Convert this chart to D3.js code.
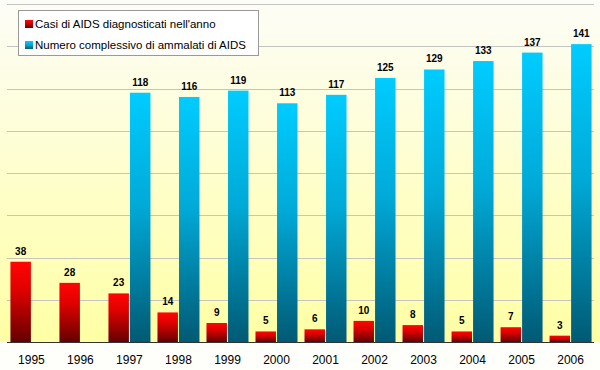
<!DOCTYPE html>
<html>
<head>
<meta charset="utf-8">
<script src="https://cdn.jsdelivr.net/npm/d3@7"></script>
<style>
  body { margin: 0; background: #fefefa; }
  svg { display: block; font-family: "Liberation Sans", Arial, sans-serif; }
</style>
</head>
<body>
<div id="chart"></div>
<script>
const years = ["1995","1996","1997","1998","1999","2000","2001","2002","2003","2004","2005","2006"];
const casiAnno = [38, 28, 23, 14, 9, 5, 6, 10, 8, 5, 7, 3];
const ammalatiTotale = [null, null, 118, 116, 119, 113, 117, 125, 129, 133, 137, 141];
const seriesNames = ["Casi di AIDS diagnosticati nell'anno", "Numero complessivo di ammalati di AIDS"];
const yTicks = [20, 40, 60, 80, 100, 120, 140, 160];

const width = 600;
const height = 370;

const plotLeft = 7, plotRight = 595, plotTop = 4, plotBottom = 342;

let svg = d3.select("#chart")
    .append("svg")
    .attr("width", width)
    .attr("height", height);

let defs = svg.append("defs");

let bgGrad = defs.append("linearGradient")
    .attr("id", "bg-grad")
    .attr("x1", 0).attr("y1", 0).attr("x2", 0).attr("y2", 1);
bgGrad.append("stop").attr("offset", "0%").attr("stop-color", "#fdfdf8");
bgGrad.append("stop").attr("offset", "100%").attr("stop-color", "#ffffa4");

let redGrad = defs.append("linearGradient")
    .attr("id", "red-grad")
    .attr("x1", 0).attr("y1", 0).attr("x2", 0).attr("y2", 1);
redGrad.append("stop").attr("offset", "0%").attr("stop-color", "#ff0505");
redGrad.append("stop").attr("offset", "35%").attr("stop-color", "#e00000");
redGrad.append("stop").attr("offset", "100%").attr("stop-color", "#640000");

let blueGrad = defs.append("linearGradient")
    .attr("id", "blue-grad")
    .attr("x1", 0).attr("y1", 0).attr("x2", 0).attr("y2", 1);
blueGrad.append("stop").attr("offset", "0%").attr("stop-color", "#00ccff");
blueGrad.append("stop").attr("offset", "45%").attr("stop-color", "#00aad8");
blueGrad.append("stop").attr("offset", "100%").attr("stop-color", "#005a74");

// background
svg.append("rect")
    .attr("x", 0)
    .attr("y", 0)
    .attr("width", width)
    .attr("height", plotBottom)
    .attr("fill", "url(#bg-grad)");

let xScale = d3.scaleBand()
    .domain(years)
    .range([plotLeft, plotRight])
    .paddingInner(0.143)
    .paddingOuter(0.07);

let xSub = d3.scaleBand()
    .domain([0, 1])
    .range([0, xScale.bandwidth()])
    .paddingInner(0.05);

let yScale = d3.scaleLinear()
    .domain([0, 160])
    .range([plotBottom, plotTop]);

// gridlines
svg.append("g")
    .selectAll("line")
    .data(yTicks)
    .join("line")
    .attr("x1", plotLeft)
    .attr("x2", plotRight - 1)
    .attr("y1", d => Math.round(yScale(d)) + 0.5)
    .attr("y2", d => Math.round(yScale(d)) + 0.5)
    .attr("stroke", "#c4c4c0")
    .attr("stroke-width", 1);

let data = years.map((y, i) => ({ year: y, red: casiAnno[i], blue: ammalatiTotale[i] }));

// red bars
svg.append("g")
    .selectAll("rect")
    .data(data)
    .join("rect")
    .attr("x", d => xScale(d.year) + xSub(0))
    .attr("y", d => yScale(d.red))
    .attr("width", xSub.bandwidth())
    .attr("height", d => yScale(0) - yScale(d.red))
    .attr("fill", "url(#red-grad)");

// blue bars
svg.append("g")
    .selectAll("rect")
    .data(data.filter(d => d.blue !== null))
    .join("rect")
    .attr("x", d => xScale(d.year) + xSub(1))
    .attr("y", d => yScale(d.blue))
    .attr("width", xSub.bandwidth())
    .attr("height", d => yScale(0) - yScale(d.blue))
    .attr("fill", "url(#blue-grad)");

// value labels
svg.append("g")
    .selectAll("text")
    .data(data)
    .join("text")
    .attr("x", d => xScale(d.year) + xSub(0) + xSub.bandwidth() / 2)
    .attr("y", d => yScale(d.red) - 7)
    .attr("text-anchor", "middle")
    .style("font-size", "10px")
    .style("font-weight", "bold")
    .attr("fill", "#000")
    .text(d => d.red);

svg.append("g")
    .selectAll("text")
    .data(data.filter(d => d.blue !== null))
    .join("text")
    .attr("x", d => xScale(d.year) + xSub(1) + xSub.bandwidth() / 2)
    .attr("y", d => yScale(d.blue) - 7)
    .attr("text-anchor", "middle")
    .style("font-size", "10px")
    .style("font-weight", "bold")
    .attr("fill", "#000")
    .text(d => d.blue);

// baseline
svg.append("line")
    .attr("x1", plotLeft)
    .attr("x2", plotRight - 1)
    .attr("y1", plotBottom + 0.5)
    .attr("y2", plotBottom + 0.5)
    .attr("stroke", "#333")
    .attr("stroke-width", 1);

// x axis labels
svg.append("g")
    .selectAll("text")
    .data(years)
    .join("text")
    .attr("x", d => xScale(d) + xScale.bandwidth() / 2)
    .attr("y", 364)
    .attr("text-anchor", "middle")
    .style("font-size", "12px")
    .attr("fill", "#000")
    .text(d => d);

// legend
let legend = svg.append("g").attr("transform", "translate(18, 10)");

legend.append("rect")
    .attr("x", 0.5)
    .attr("y", 0.5)
    .attr("width", 240)
    .attr("height", 45)
    .attr("fill", "#fff")
    .attr("stroke", "#999");

legend.selectAll("rect.swatch")
    .data(seriesNames)
    .join("rect")
    .classed("swatch", true)
    .attr("x", 7)
    .attr("y", (d, i) => 10 + i * 21)
    .attr("width", 8)
    .attr("height", 8)
    .attr("fill", (d, i) => i === 0 ? "url(#red-grad)" : "url(#blue-grad)");

legend.selectAll("text")
    .data(seriesNames)
    .join("text")
    .attr("x", 17)
    .attr("y", (d, i) => 17.5 + i * 21)
    .style("font-size", "11.5px")
    .attr("fill", "#000")
    .text(d => d);
</script>
</body>
</html>
